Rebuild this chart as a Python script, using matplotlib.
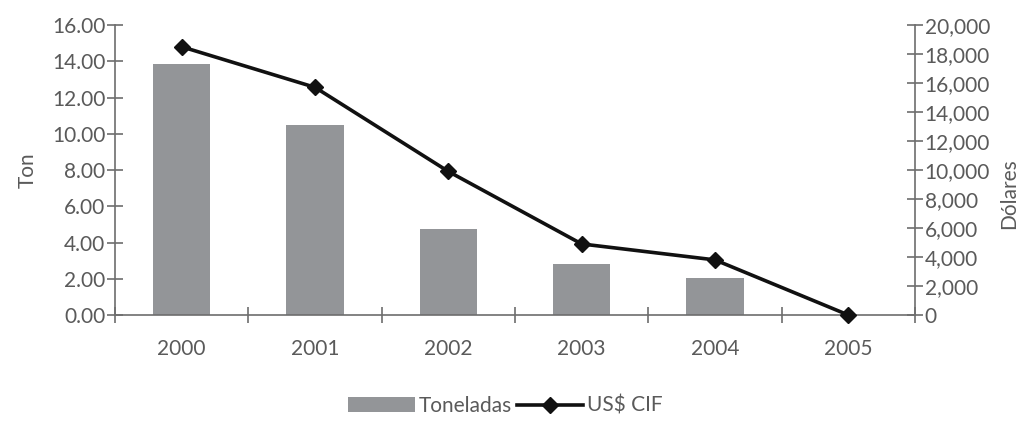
import numpy as np
import matplotlib.pyplot as plt
from matplotlib.ticker import FuncFormatter, MultipleLocator

years = ["2000", "2001", "2002", "2003", "2004", "2005"]
toneladas = [13.83, 10.47, 4.76, 2.80, 2.06, 0.0]
usd_cif = [18500, 15700, 9900, 4900, 3800, 0]

plt.rcParams['font.family'] = ['Lato', 'DejaVu Sans']
txt = '#5a5a5a'
axc = '#6d6d6d'
fs = 15

fig = plt.figure(figsize=(10.32, 4.21), dpi=100)
ax = fig.add_axes([115 / 1032, 1 - 315 / 421, 800 / 1032, 290 / 421])
ax2 = ax.twinx()

x = np.arange(len(years))
ax.bar(x, toneladas, width=0.43, color='#939598', label='Toneladas', zorder=2)
ax2.plot(x, usd_cif, color='#111111', lw=2.6, marker='D', ms=8,
         label='US$ CIF', clip_on=False, zorder=3)

ax.set_xlim(-0.5, len(years) - 0.5)
ax.set_ylim(0, 16)
ax2.set_ylim(0, 20000)

ax.yaxis.set_major_locator(MultipleLocator(2))
ax.yaxis.set_major_formatter(FuncFormatter(lambda v, p: f"{v:.2f}"))
ax2.yaxis.set_major_locator(MultipleLocator(2000))
ax2.yaxis.set_major_formatter(FuncFormatter(lambda v, p: f"{v:,.0f}"))

ax.set_xticks(x)
ax.set_xticklabels(years)
ax.set_xticks(np.arange(-0.5, len(years)), minor=True)
ax.tick_params(axis='x', which='major', length=0, pad=17, labelsize=fs, labelcolor=txt)
ax.tick_params(axis='x', which='minor', direction='inout', length=12, color=axc, width=1.2)
ax.tick_params(axis='y', direction='inout', length=12, color=axc, width=1.2,
               labelsize=fs, labelcolor=txt, pad=1)
ax2.tick_params(axis='y', direction='inout', length=12, color=axc, width=1.2,
                labelsize=fs, labelcolor=txt, pad=1)

for a in (ax, ax2):
    a.spines['top'].set_visible(False)
    for s in ('left', 'right', 'bottom'):
        a.spines[s].set_color(axc)
        a.spines[s].set_linewidth(1.2)
ax.spines['right'].set_visible(False)
ax2.spines['left'].set_visible(False)
ax2.spines['bottom'].set_visible(False)

ax.set_ylabel('Ton', color=txt, fontsize=fs, labelpad=10)
ax2.set_ylabel('Dólares', color=txt, fontsize=fs, rotation=90)
ax2.yaxis.set_label_coords(1.105, 0.42)

h1, l1 = ax.get_legend_handles_labels()
h2, l2 = ax2.get_legend_handles_labels()
fig.legend(h1 + h2, l1 + l2, loc='center', bbox_to_anchor=(0.49, 1 - 406 / 421),
           ncol=2, frameon=False, fontsize=fs, labelcolor=txt,
           handlelength=3.2, handletextpad=0.2, columnspacing=0.2)

fig.savefig('out.png', dpi=100)
